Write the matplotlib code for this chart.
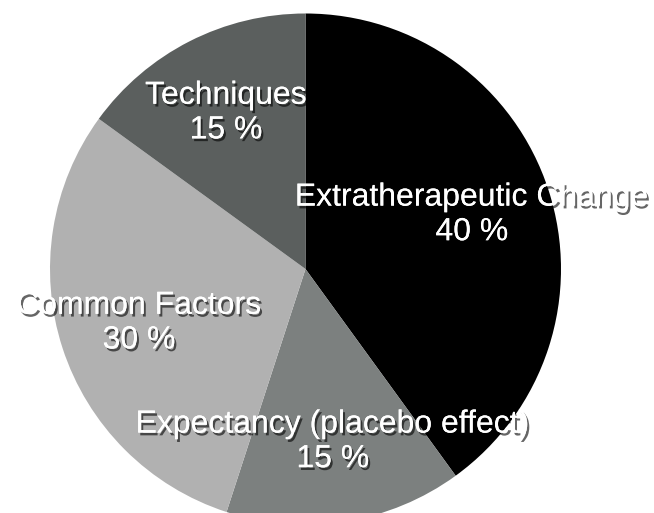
import matplotlib
matplotlib.use("Agg")
import matplotlib.pyplot as plt
import matplotlib.patheffects as pe

categories = ["Extratherapeutic Change", "Expectancy (placebo effect)", "Common Factors", "Techniques"]
values = [40, 15, 30, 15]
colors = ["#000000", "#7c807f", "#b1b1b1", "#5b5f5e"]

W, H = 654, 513
fig = plt.figure(figsize=(W / 100, H / 100), dpi=100)
cx, cy, R = 305.5, 269, 255.5
ax = fig.add_axes([(cx - R) / W, (H - cy - R) / H, 2 * R / W, 2 * R / H])

labels = [f"{c}\n{v} %" for c, v in zip(categories, values)]
wedges, texts = ax.pie(values, colors=colors, startangle=90, counterclock=False,
                       labels=labels, labeldistance=0.685,
                       wedgeprops=dict(linewidth=0))
for t in texts:
    t.set_horizontalalignment("center")
    t.set_verticalalignment("center")
    t.set_color("white")
    t.set_fontsize(23)
    t.set_family(["Liberation Sans", "DejaVu Sans"])
    t.set_linespacing(1.2)
    t.set_path_effects([pe.withSimplePatchShadow(offset=(1.5, -2), shadow_rgbFace="black", alpha=0.6),
                        pe.Normal()])
ax.set_xlim(-1, 1)
ax.set_ylim(-1, 1)
ax.set_aspect("equal")
ax.axis("off")
fig.savefig("out.png", dpi=100)
